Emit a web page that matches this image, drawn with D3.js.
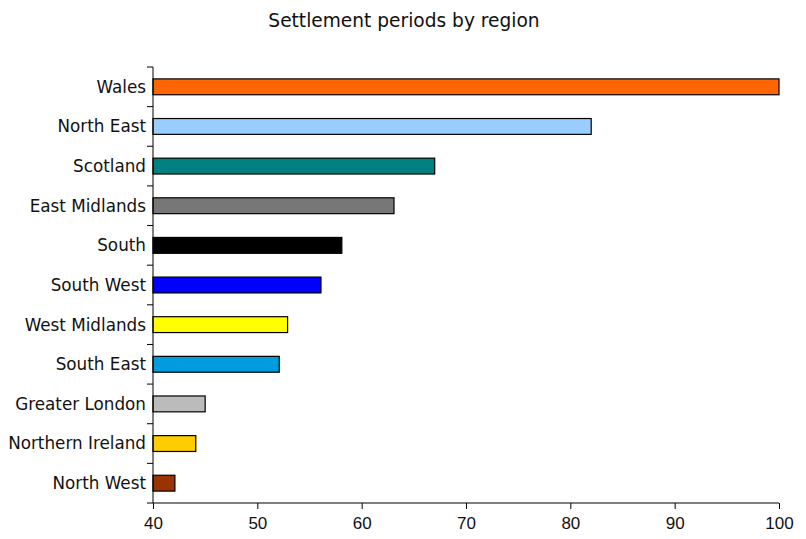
<!DOCTYPE html>
<html><head><meta charset="utf-8">
<script src="https://cdn.jsdelivr.net/npm/d3@7"></script>
<style>body{margin:0;background:#fff}svg{display:block}</style>
</head><body>
<svg id="c" width="806" height="539"></svg>
<script>
const categories = ["Wales","North East","Scotland","East Midlands","South","South West","West Midlands","South East","Greater London","Northern Ireland","North West"];
const values = [100,82,67,63.1,58.1,56.1,52.9,52.1,45,44.1,42.1];
const colors = ["#FF6600","#99CCFF","#008080","#777777","#000000","#0000FF","#FFFF00","#009CDE","#BBBBBB","#FFCC00","#993300"];
const xTicks = [40,50,60,70,80,90,100];

const svg = d3.select("#c");
const m = {left:153, right:779, top:67, bottom:503};
const x = d3.scaleLinear().domain([40,100]).range([m.left,m.right]);
const y = d3.scaleBand().domain(categories).range([m.top,m.bottom]).paddingInner(0.6).paddingOuter(0.3);

svg.append("text").attr("x",404).attr("y",27).attr("text-anchor","middle")
  .attr("font-family","DejaVu Sans").attr("font-size",18.6).attr("fill","#111")
  .text("Settlement periods by region");

svg.selectAll("rect.bar").data(categories).enter().append("rect")
  .attr("x",x(40)).attr("y",d=>y(d))
  .attr("width",(d,i)=>x(values[i])-x(40)).attr("height",y.bandwidth())
  .attr("fill",(d,i)=>colors[i]).attr("stroke","#000").attr("stroke-width",1.2);

// y axis
const step = (m.bottom-m.top)/categories.length;
const ya = svg.append("g");
ya.append("line").attr("x1",m.left).attr("x2",m.left).attr("y1",m.top).attr("y2",m.bottom).attr("stroke","#000");
d3.range(categories.length+1).forEach(i=>{
  ya.append("line").attr("x1",m.left-6).attr("x2",m.left).attr("y1",m.top+i*step).attr("y2",m.top+i*step).attr("stroke","#000");
});
ya.selectAll("text").data(categories).enter().append("text")
  .attr("x",m.left-7).attr("y",d=>y(d)+y.bandwidth()/2).attr("dy","0.35em")
  .attr("text-anchor","end").attr("font-family","DejaVu Sans").attr("font-size",16.8).attr("fill","#111")
  .text(d=>d);

// x axis
const xa = svg.append("g").attr("transform",`translate(0,${m.bottom})`)
  .call(d3.axisBottom(x).tickValues(xTicks).tickSize(6).tickPadding(8).tickFormat(d3.format("d")));
xa.select(".domain").attr("stroke","#000").attr("d",`M${m.left},0H${m.right}`);
xa.selectAll(".tick line").attr("stroke","#000");
xa.selectAll(".tick text").attr("font-family","Liberation Sans").attr("font-size",17).attr("fill","#111");
</script>
</body></html>
